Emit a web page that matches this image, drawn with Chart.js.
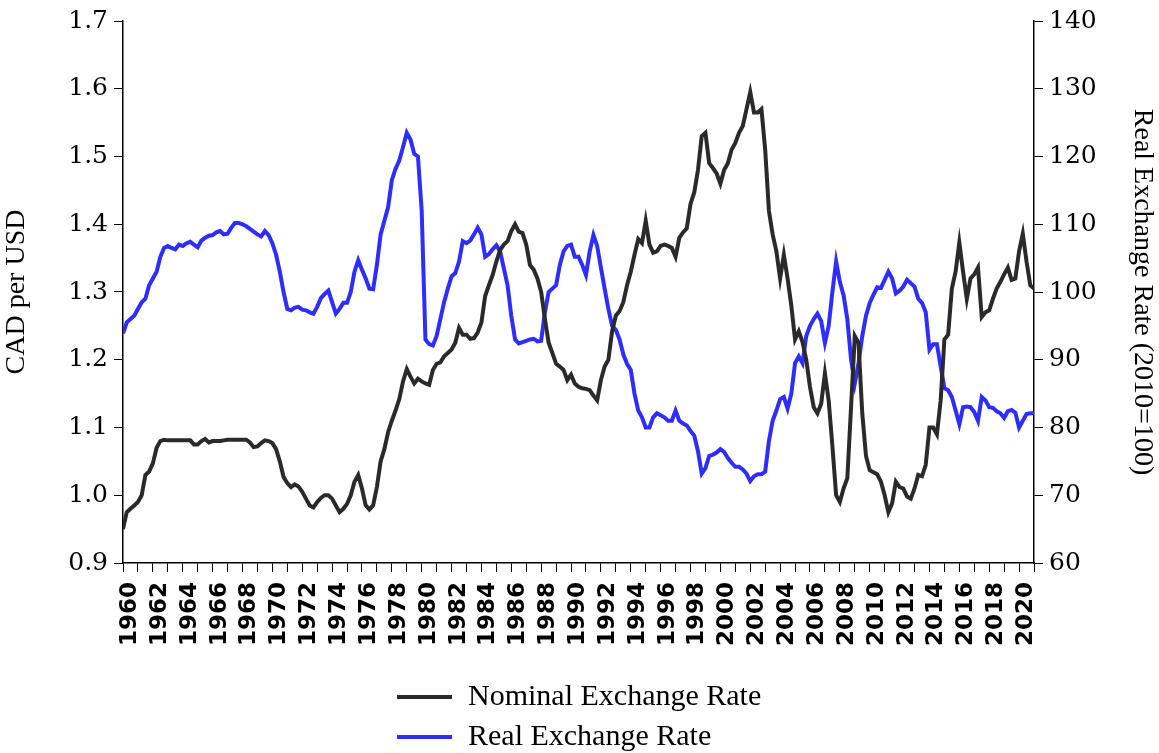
<!DOCTYPE html>
<html>
<head>
<meta charset="utf-8">
<title>CAD per USD: nominal and real exchange rate</title>
<script src="https://cdn.jsdelivr.net/npm/chart.js@4.4.1/dist/chart.umd.min.js"></script>
<style>
    html, body { margin: 0; padding: 0; background: #fff; }
    #wrap { width: 1159px; height: 753px; }
</style>
</head>
<body>
<div id="wrap"><canvas id="exchangeRateChart" width="1159" height="753"></canvas></div>
<script>
'use strict';

// quarterly observations, 1960Q1 .. 2021Q1
var startYear = 1960;
var endYear = 2021;

// CAD per USD (left axis)
var nominalRate = [
    0.950, 0.975, 0.980, 0.985,  0.990, 1.000, 1.030, 1.035,
    1.047, 1.070, 1.080, 1.082,  1.081, 1.081, 1.081, 1.081,
    1.081, 1.081, 1.081, 1.075,  1.075, 1.080, 1.083, 1.078,
    1.080, 1.080, 1.080, 1.081,  1.082, 1.082, 1.082, 1.082,
    1.082, 1.082, 1.078, 1.071,  1.072, 1.077, 1.081, 1.080,
    1.077, 1.068, 1.050, 1.027,  1.018, 1.012, 1.016, 1.013,
    1.005, 0.995, 0.985, 0.982,  0.990, 0.996, 1.000, 1.000,
    0.995, 0.985, 0.975, 0.980,  0.987, 1.000, 1.020, 1.030,
    1.010, 0.985, 0.979, 0.985,  1.012, 1.050, 1.068, 1.093,
    1.110, 1.125, 1.142, 1.168,  1.186, 1.175, 1.165, 1.172,
    1.168, 1.165, 1.163, 1.185,  1.194, 1.196, 1.205, 1.210,
    1.215, 1.225, 1.247, 1.237,  1.237, 1.231, 1.232, 1.240,
    1.255, 1.294, 1.310, 1.325,  1.345, 1.362, 1.370, 1.375,
    1.390, 1.400, 1.389, 1.387,  1.370, 1.340, 1.333, 1.320,
    1.300, 1.260, 1.225, 1.210,  1.194, 1.190, 1.185, 1.170,
    1.178, 1.165, 1.160, 1.158,  1.157, 1.155, 1.147, 1.140,
    1.170, 1.190, 1.200, 1.242,  1.265, 1.272, 1.285, 1.310,
    1.330, 1.355, 1.378, 1.372,  1.405, 1.370, 1.358, 1.360,
    1.368, 1.370, 1.368, 1.365,  1.352, 1.380, 1.388, 1.394,
    1.430, 1.447, 1.480, 1.530,  1.535, 1.490, 1.483, 1.475,
    1.460, 1.480, 1.490, 1.510,  1.520, 1.535, 1.545, 1.570,
    1.595, 1.565, 1.565, 1.570,  1.510, 1.420, 1.385, 1.360,
    1.320, 1.355, 1.320, 1.280,  1.230, 1.242, 1.226, 1.200,
    1.160, 1.130, 1.121, 1.135,  1.180, 1.140, 1.073, 1.000,
    0.990, 1.010, 1.025, 1.130,  1.235, 1.225, 1.121, 1.058,
    1.037, 1.034, 1.031, 1.020,  1.000, 0.975, 0.988, 1.020,
    1.012, 1.010, 0.998, 0.995,  1.010, 1.030, 1.028, 1.045,
    1.100, 1.100, 1.090, 1.140,  1.230, 1.237, 1.305, 1.330,
    1.373, 1.330, 1.290, 1.320,  1.326, 1.336, 1.263, 1.270,
    1.273, 1.290, 1.305, 1.315,  1.326, 1.336, 1.318, 1.320,
    1.360, 1.386, 1.345, 1.310,  1.305
];

// real exchange rate index, 2010=100 (right axis)
var realRate = [
    93.9, 95.5, 96.0, 96.5,      97.5, 98.5, 99.0, 101.0,
    102.0, 103.0, 105.2, 106.5,  106.8, 106.5, 106.3, 107.0,
    106.8, 107.2, 107.4, 107.0,  106.6, 107.6, 108.0, 108.3,
    108.4, 108.8, 109.0, 108.5,  108.6, 109.5, 110.2, 110.2,
    110.0, 109.7, 109.3, 108.9,  108.5, 108.2, 109.0, 108.4,
    107.2, 105.5, 103.0, 100.0,  97.5, 97.3, 97.7, 97.8,
    97.4, 97.3, 97.0, 96.8,      97.8, 99.1, 99.7, 100.2,
    98.5, 96.8, 97.5, 98.4,      98.4, 100.0, 103.0, 104.7,
    103.3, 102.0, 100.5, 100.4,  104.0, 108.5, 110.5, 112.5,
    116.5, 118.2, 119.4, 121.4,  123.5, 122.5, 120.4, 120.0,
    112.0, 93.0, 92.3, 92.1,     93.5, 96.0, 98.5, 100.5,
    102.3, 102.8, 104.5, 107.5,  107.2, 107.6, 108.5, 109.5,
    108.5, 105.2, 105.6, 106.3,  106.9, 106.0, 103.5, 101.0,
    96.5, 93.0, 92.4, 92.6,      92.8, 93.0, 93.1, 92.7,
    92.8, 97.0, 100.0, 100.5,    101.0, 104.0, 106.0, 106.8,
    107.0, 105.2, 105.2, 104.0,  102.5, 106.0, 108.4, 106.8,
    103.6, 100.5, 97.5, 95.0,    94.4, 93.0, 90.8, 89.4,
    88.5, 85.0, 82.5, 81.5,      80.0, 80.0, 81.5, 82.1,
    81.8, 81.5, 81.0, 81.0,      82.5, 81.0, 80.6, 80.3,
    79.5, 78.8, 76.5, 73.2,      74.0, 75.8, 76.0, 76.3,
    76.8, 76.4, 75.5, 74.8,      74.2, 74.2, 73.8, 73.2,
    72.1, 72.8, 73.1, 73.1,      73.5, 78.0, 81.0, 82.5,
    84.2, 84.5, 82.8, 85.0,      89.5, 90.5, 89.5, 93.5,
    95.0, 96.0, 96.8, 95.7,      92.5, 95.0, 100.0, 104.5,
    101.5, 99.5, 96.0, 90.0,     86.5, 89.5, 93.5, 96.5,
    98.4, 99.6, 100.7, 100.6,    101.8, 103.0, 102.0, 99.8,
    100.2, 100.8, 101.8, 101.3,  100.8, 99.0, 98.4, 97.0,
    91.5, 92.3, 92.3, 89.0,      85.8, 85.5, 84.5, 82.5,
    80.5, 83.0, 83.1, 83.0,      82.3, 81.0, 84.5, 84.0,
    83.0, 82.9, 82.4, 82.1,      81.4, 82.4, 82.6, 82.2,
    80.0, 81.0, 82.0, 82.1,      82.1
];

var leftAxisRange = [0.9, 1.7];
var rightAxisRange = [60, 140];

var colors = {
    nominal : "#2a2a2a",
    real    : "#2d2dff",
    axis    : "#000000",
    text    : "#000000"
};

var serif = "'Liberation Serif', 'Times New Roman', serif";
var wideSerif = "'DejaVu Serif', serif";
var sans = "'DejaVu Sans', sans-serif";

function toPoints(values) {
    return values.map(function(v, i) {
        return { x: startYear + i / 4, y: v };
    });
}

// legend drawn as two stacked rows under the axis labels
var stackedLegend = {
    id: 'stackedLegend',
    afterDraw: function(chart) {
        var ctx = chart.ctx;
        ctx.save();
        ctx.font = '30px ' + serif;
        ctx.textBaseline = 'middle';
        ctx.textAlign = 'left';
        chart.data.datasets.forEach(function(ds, i) {
            var y = 697 + i * 40;
            ctx.strokeStyle = ds.borderColor;
            ctx.lineWidth = 4;
            ctx.beginPath();
            ctx.moveTo(397, y);
            ctx.lineTo(452, y);
            ctx.stroke();
            ctx.fillStyle = colors.text;
            ctx.fillText(ds.label, 468, y);
        });
        ctx.restore();
    }
};

var axisGrid = {
    drawOnChartArea: false,
    drawTicks: true,
    tickLength: 9,
    color: colors.axis,
    lineWidth: 1
};
var axisBorder = { display: true, color: colors.axis, width: 1.5 };

new Chart(document.getElementById('exchangeRateChart'), {
    type: 'line',
    data: {
        datasets: [{
            label: 'Nominal Exchange Rate',
            data: toPoints(nominalRate),
            yAxisID: 'y',
            borderColor: colors.nominal,
            backgroundColor: colors.nominal,
            borderWidth: 4,
            pointRadius: 0,
            tension: 0
        }, {
            label: 'Real Exchange Rate',
            data: toPoints(realRate),
            yAxisID: 'y1',
            borderColor: colors.real,
            backgroundColor: colors.real,
            borderWidth: 4,
            pointRadius: 0,
            tension: 0
        }]
    },
    options: {
        responsive: false,
        animation: false,
        layout: { padding: { top: 18, bottom: 90, left: 0, right: 0 } },
        plugins: {
            legend: { display: false },
            tooltip: { enabled: false }
        },
        scales: {
            x: {
                type: 'linear',
                min: startYear,
                max: endYear,
                afterFit: function(s) { s.height = 100; },
                grid: axisGrid,
                border: axisBorder,
                ticks: {
                    stepSize: 1,
                    autoSkip: false,
                    minRotation: 90,
                    maxRotation: 90,
                    labelOffset: 7,
                    padding: 10,
                    color: colors.text,
                    font: { family: sans, size: 23, weight: 'bold' },
                    callback: function(v) { return v % 2 === 0 ? String(v) : ''; }
                }
            },
            y: {
                position: 'left',
                min: leftAxisRange[0],
                max: leftAxisRange[1],
                afterFit: function(s) { s.width = 123; },
                grid: axisGrid,
                border: axisBorder,
                title: {
                    display: true,
                    text: 'CAD per USD',
                    color: colors.text,
                    padding: 0,
                    font: { family: serif, size: 28 }
                },
                ticks: {
                    stepSize: 0.1,
                    padding: 6,
                    color: colors.text,
                    font: { family: wideSerif, size: 25 },
                    callback: function(v) { return Number(v).toFixed(1); }
                }
            },
            y1: {
                position: 'right',
                min: rightAxisRange[0],
                max: rightAxisRange[1],
                afterFit: function(s) { s.width = 125; },
                grid: axisGrid,
                border: axisBorder,
                title: {
                    display: true,
                    text: 'Real Exchange Rate (2010=100)',
                    color: colors.text,
                    padding: 0,
                    font: { family: serif, size: 28 }
                },
                ticks: {
                    stepSize: 10,
                    padding: 6,
                    color: colors.text,
                    font: { family: wideSerif, size: 25 }
                }
            }
        }
    },
    plugins: [stackedLegend]
});
</script>
</body>
</html>
